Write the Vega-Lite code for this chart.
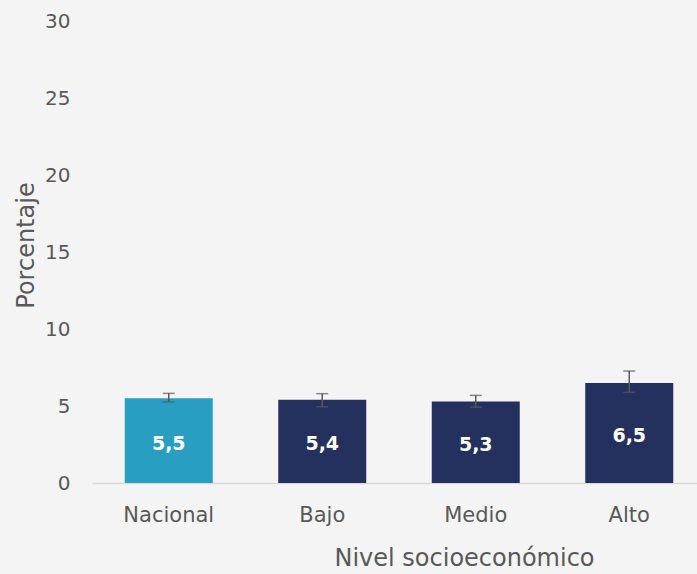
{
  "$schema": "https://vega.github.io/schema/vega-lite/v6.json",
  "autosize": "none",
  "width": 605,
  "height": 462,
  "padding": {"left": 92, "top": 21, "right": 0, "bottom": 91},
  "background": "#f4f4f4",
  "config": {
    "view": {"stroke": null},
    "font": "DejaVu Sans",
    "axis": {"labelFont": "DejaVu Sans", "titleFont": "DejaVu Sans", "labelColor": "#595959", "titleColor": "#595959", "titleFontWeight": "normal"}
  },
  "data": {
    "values": [
      {"grupo": "Nacional", "valor": 5.5, "lo": 5.26, "hi": 5.82, "etiqueta": "5,5", "tipo": "nacional"},
      {"grupo": "Bajo", "valor": 5.4, "lo": 4.95, "hi": 5.8, "etiqueta": "5,4", "tipo": "nse"},
      {"grupo": "Medio", "valor": 5.3, "lo": 4.92, "hi": 5.69, "etiqueta": "5,3", "tipo": "nse"},
      {"grupo": "Alto", "valor": 6.5, "lo": 5.89, "hi": 7.27, "etiqueta": "6,5", "tipo": "nse"}
    ]
  },
  "encoding": {
    "x": {
      "field": "grupo",
      "type": "nominal",
      "sort": ["Nacional", "Bajo", "Medio", "Alto"],
      "scale": {"range": [0, 614], "paddingInner": 0.4267, "paddingOuter": 0.2134},
      "axis": {
        "title": "Nivel socioeconómico",
        "titleFontSize": 24,
        "titleX": 372,
        "titleY": 75,
        "titleBaseline": "middle",
        "labelFontSize": 21,
        "labelAngle": 0,
        "labelPadding": 21,
        "ticks": false,
        "domainColor": "#d9d9d9",
        "domainWidth": 1.5,
        "grid": false
      }
    }
  },
  "resolve": {"scale": {"y": "independent"}},
  "layer": [
    {
      "mark": {"type": "bar"},
      "encoding": {
        "y": {
          "field": "valor",
          "type": "quantitative",
          "scale": {"domain": [0, 30], "nice": false},
          "axis": {
            "title": "Porcentaje",
            "titleFontSize": 24,
            "titleX": -66,
            "titleY": 224,
            "titleAngle": -90,
            "titleAlign": "center",
            "titleBaseline": "middle",
            "labelFontSize": 20,
            "labelPadding": 22,
            "values": [0, 5, 10, 15, 20, 25, 30],
            "ticks": false,
            "domain": false,
            "grid": false
          }
        },
        "color": {
          "field": "tipo",
          "type": "nominal",
          "scale": {"domain": ["nacional", "nse"], "range": ["#289fc0", "#24305e"]},
          "legend": null
        }
      }
    },
    {
      "mark": {"type": "rule", "color": "#595959", "strokeWidth": 1.5},
      "encoding": {
        "y": {"field": "lo", "type": "quantitative", "scale": {"domain": [0, 30], "nice": false}, "axis": null},
        "y2": {"field": "hi"}
      }
    },
    {
      "mark": {"type": "tick", "color": "#595959", "size": 12, "thickness": 1.5, "orient": "horizontal"},
      "encoding": {"y": {"field": "lo", "type": "quantitative", "scale": {"domain": [0, 30], "nice": false}, "axis": null}}
    },
    {
      "mark": {"type": "tick", "color": "#595959", "size": 12, "thickness": 1.5, "orient": "horizontal"},
      "encoding": {"y": {"field": "hi", "type": "quantitative", "scale": {"domain": [0, 30], "nice": false}, "axis": null}}
    },
    {
      "mark": {"type": "text", "color": "white", "fontWeight": "bold", "fontSize": 19, "baseline": "middle", "dy": 3},
      "encoding": {
        "y": {"field": "valor", "type": "quantitative", "scale": {"domain": [0, 60], "nice": false}, "axis": null},
        "text": {"field": "etiqueta"}
      }
    }
  ]
}
